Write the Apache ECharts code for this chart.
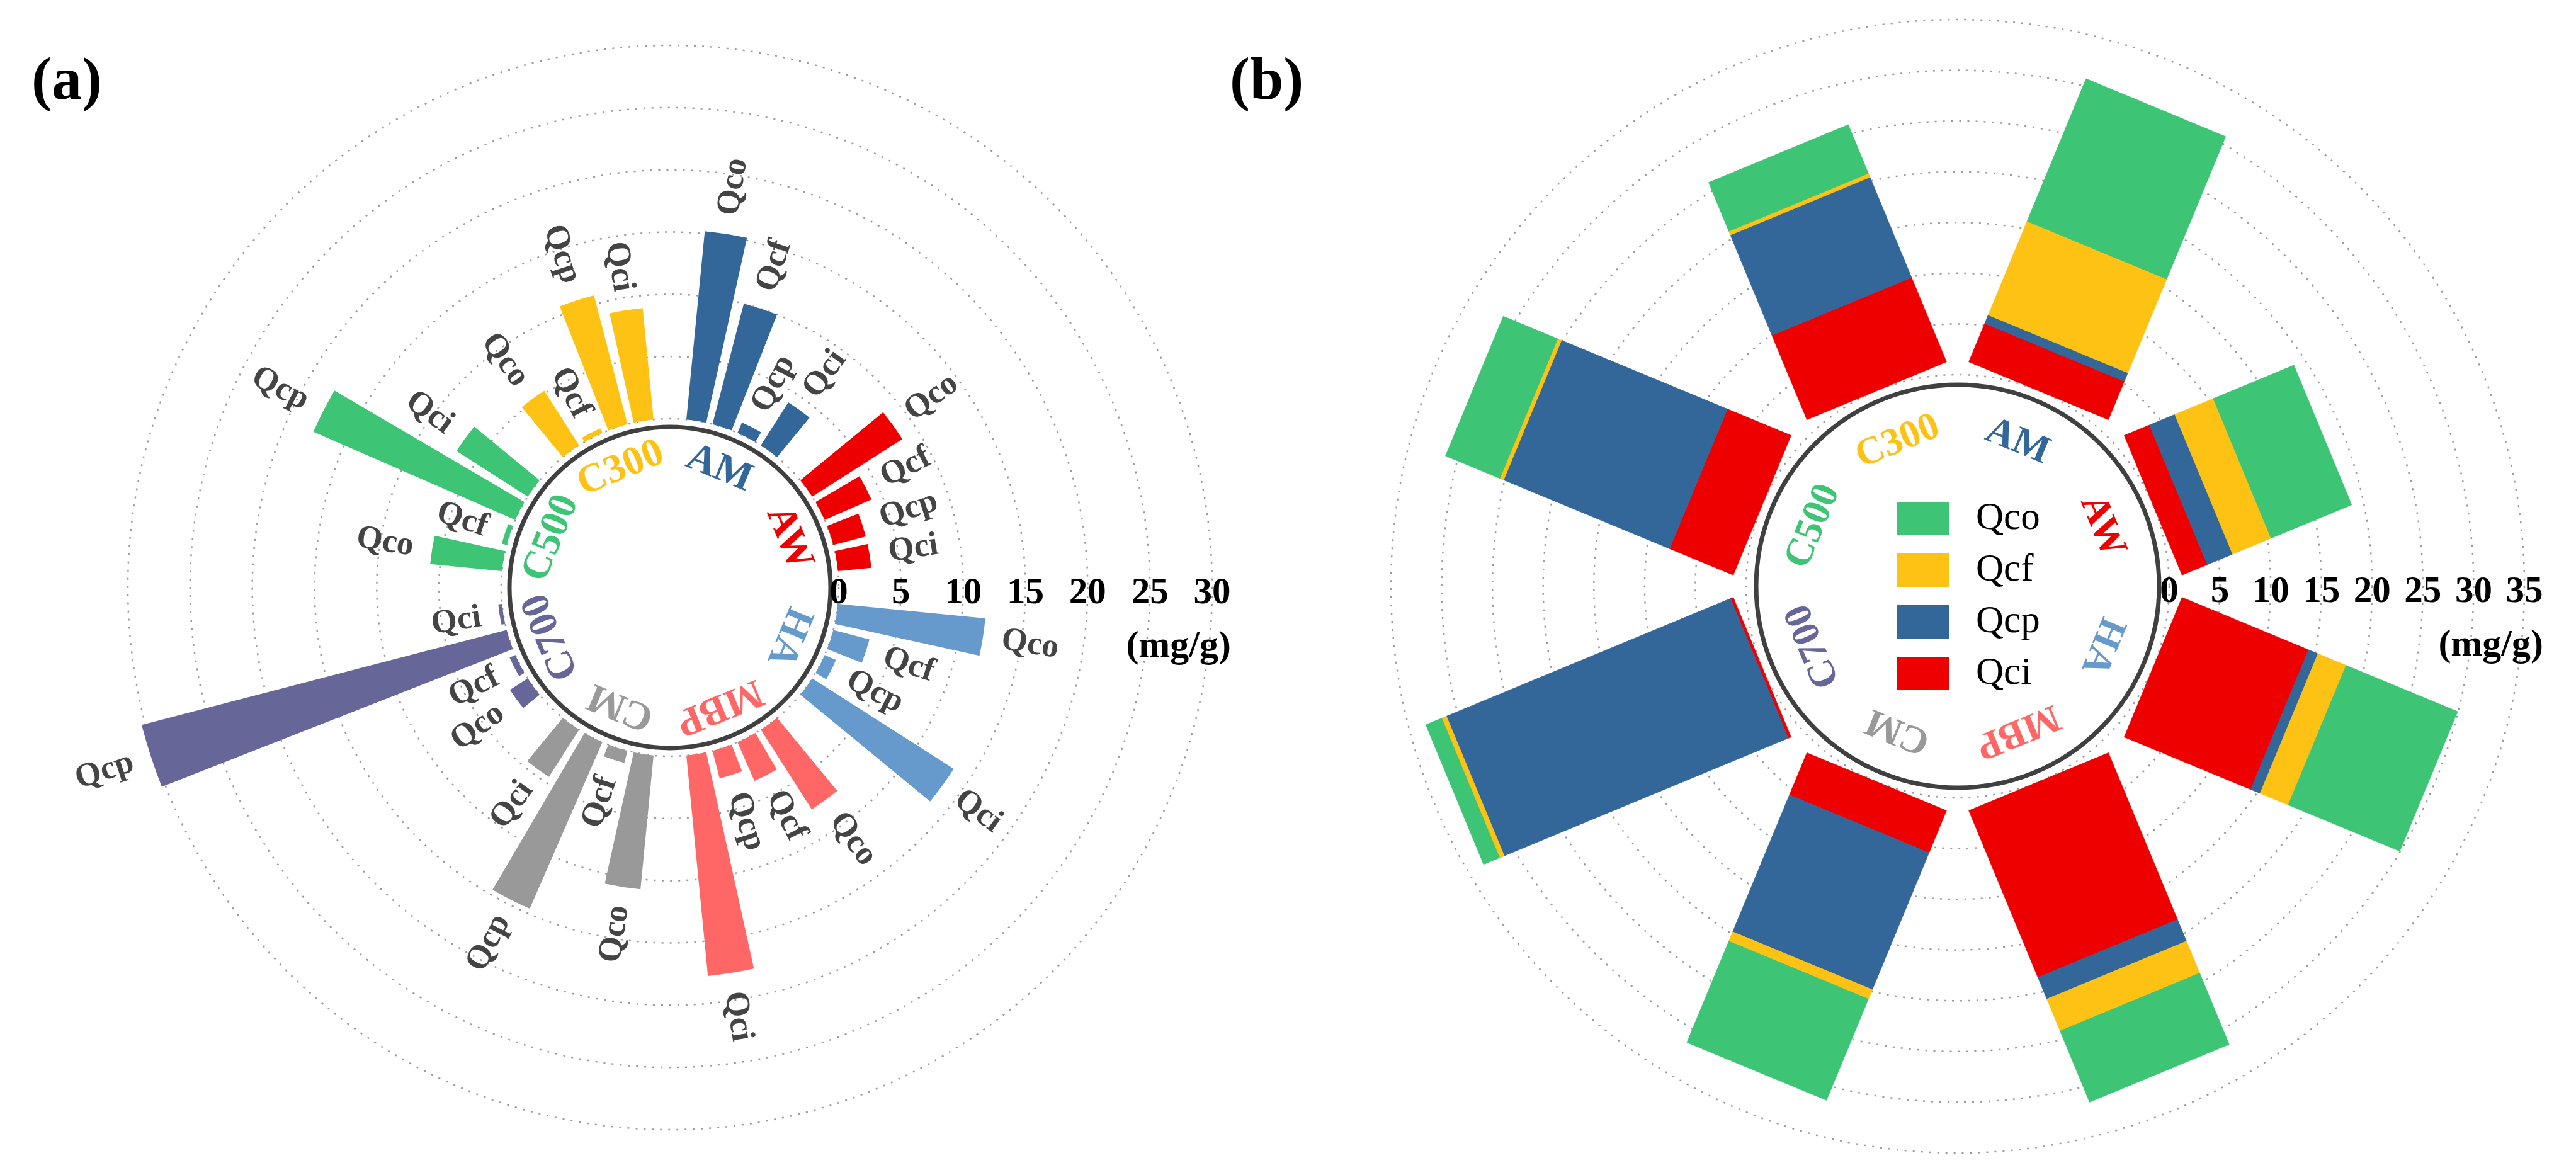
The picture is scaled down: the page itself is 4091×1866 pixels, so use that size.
<!DOCTYPE html>
<html>
<head>
<meta charset="utf-8">
<script src="https://cdn.jsdelivr.net/npm/echarts@6/dist/echarts.min.js"></script>
<style>
html,body{margin:0;padding:0;background:#fff;}
#chart{width:4091px;height:1866px;}
</style>
</head>
<body>
<div id="chart"></div>
<script>
// ---------------- data ----------------
const groups = ['AM', 'AW', 'HA', 'MBP', 'CM', 'C700', 'C500', 'C300'];
const components = ['Qco', 'Qcf', 'Qcp', 'Qci'];
const Qco = [15.2, 8.6, 11.9, 7.6, 10.8, 1.7, 5.8, 5.2];
const Qcf = [10.0, 4.1, 3.0, 3.4, 1.0, 0.5, 0.4, 0.4];
const Qcp = [0.9, 2.7, 1.0, 2.3, 14.6, 30.3, 17.7, 10.7];
const Qci = [4.1, 2.7, 13.5, 17.8, 4.5, 0.3, 6.8, 9.0];
const stackOrder = ['Qci', 'Qcp', 'Qcf', 'Qco'];   // inner -> outer in panel (b)
const unitLabel = '(mg/g)';
const panelTitles = ['(a)', '(b)'];

// ---------------- styles ----------------
const FONT = 'Liberation Serif';
const groupColors = ['#336699', '#EE0000', '#6699CC', '#FF6666', '#999999', '#666699', '#3DC474', '#FEC214'];
const compColors = { Qco: '#3DC474', Qcf: '#FEC214', Qcp: '#336699', Qci: '#EE0000' };
const valuesByComp = { Qco, Qcf, Qcp, Qci };
const gridLine = { color: '#9a9a9a', width: 2.5, type: [3, 10] };
const CA = [1064, 933], CB = [3109, 931];

// ---------------- panel (a) derived ----------------
const catA = [];
const barDataA = [];
const labelDataA = [];
const labelTextA = [];
groups.forEach((g, gi) => {
  components.forEach((c) => {
    const idx = catA.length;
    catA.push(g + '-' + c);
    const v = valuesByComp[c][gi];
    barDataA.push({ value: v, itemStyle: { color: groupColors[gi] } });
    labelDataA.push([idx, v]);
    labelTextA.push(c);
  });
  catA.push(g + '-gap');
  barDataA.push('-');
});

// ---------------- panel (b) derived ----------------
const stackSeries = stackOrder.map((c) => {
  const data = groups.map((g, gi) => {
    let start = 0;
    for (const s of stackOrder) { if (s === c) break; start += valuesByComp[s][gi]; }
    return [gi, start, start + valuesByComp[c][gi]];
  });
  return {
    name: c, type: 'custom', coordinateSystem: 'polar', polarIndex: 3,
    itemStyle: { color: compColors[c] },
    encode: { angle: 0, radius: [1, 2] },
    data: data,
    renderItem: stackRect, z: 3
  };
});

function unitDir(api, k, rmax) {
  const a = api.coord([0, k]), b = api.coord([rmax, k]);
  let ux = b[0] - a[0], uy = b[1] - a[1];
  const L = Math.hypot(ux, uy) || 1;
  return [ux / L, uy / L];
}

function stackRect(params, api) {
  const k = api.value(0), s = api.value(1), e = api.value(2);
  const [ux, uy] = unitDir(api, k, 35);
  const nx = -uy, ny = ux;
  const p0 = api.coord([s, k]), p1 = api.coord([e, k]);
  const H = 120;
  const col = api.visual('color');
  return {
    type: 'polygon',
    shape: { points: [
      [p0[0] + nx * H, p0[1] + ny * H], [p1[0] + nx * H, p1[1] + ny * H],
      [p1[0] - nx * H, p1[1] - ny * H], [p0[0] - nx * H, p0[1] - ny * H]] },
    style: { fill: col, stroke: col, lineWidth: 0.8 }
  };
}

function barLabel(params, api) {
  const cat = api.value(0), v = api.value(1);
  const [ux, uy] = unitDir(api, cat, 30);
  const tip = api.coord([v, cat]);
  const GAP = 30;
  let rot = Math.atan2(-uy, ux), align = 'left';
  if (ux < 0) { rot += Math.PI; align = 'right'; }
  return {
    type: 'text', x: tip[0] + ux * GAP, y: tip[1] + uy * GAP, rotation: rot,
    style: { text: labelTextA[params.dataIndex], fill: '#444',
      font: 'bold 53px "' + FONT + '"', align: align, verticalAlign: 'middle' }
  };
}

function makeGroupLabel(size) {
  return function (params, api) {
    const k = api.value(0), r = api.value(1);
    const c = api.coord([0, k]), p = api.coord([r, k]);
    let ux = p[0] - c[0], uy = p[1] - c[1];
    const L = Math.hypot(ux, uy) || 1; ux /= L; uy /= L;
    return {
      type: 'text', x: p[0], y: p[1], rotation: Math.atan2(-ux, -uy),
      style: { text: groups[k], fill: groupColors[k],
        font: 'bold ' + size + 'px "' + FONT + '"', align: 'center', verticalAlign: 'middle' }
    };
  };
}

const hiddenAngle = (idx, extra) => Object.assign({
  polarIndex: idx, axisLine: { show: false }, axisTick: { show: false },
  axisLabel: { show: false }, splitLine: { show: false }, splitArea: { show: false }
}, extra);

function labelRadius(idx, max) {
  return {
    polarIndex: idx, type: 'value', min: 0, max: max, interval: 5,
    axisLine: { show: false }, axisTick: { show: false }, splitLine: { show: false },
    axisLabel: { show: true, color: '#000', fontFamily: FONT, fontWeight: 'bold', fontSize: 59,
      margin: -10, verticalAlign: 'middle', align: 'center' },
    name: unitLabel, nameLocation: 'end', nameGap: 30, nameMoveOverlap: false,
    nameTextStyle: { color: '#000', fontFamily: FONT, fontWeight: 'bold', fontSize: 60,
      align: 'right', verticalAlign: 'top', padding: [64, 0, 0, 0] }
  };
}

const option = {
  animation: false,
  backgroundColor: '#fff',
  title: panelTitles.map((t, i) => ({
    text: t, left: i === 0 ? 50 : 1953, top: 84, padding: 0,
    textStyle: { fontFamily: FONT, fontWeight: 'bold', fontSize: 96, color: '#000' }
  })),
  legend: {
    data: components, orient: 'vertical', left: 3013, top: 793,
    itemWidth: 82, itemHeight: 53, itemGap: 21, icon: 'rect', padding: 0,
    selectedMode: false,
    textStyle: { fontFamily: FONT, fontSize: 61, color: '#000', padding: [0, 0, 0, 38] }
  },
  polar: [
    { center: CA, radius: [268, 861] },
    { center: CA, radius: [0, 255] },
    { center: CA, radius: [268, 861] },
    { center: CB, radius: [336, 900] },
    { center: CB, radius: [0, 320] },
    { center: CB, radius: [336, 900] }
  ],
  angleAxis: [
    hiddenAngle(0, { type: 'category', data: catA, startAngle: 85.5, clockwise: true }),
    hiddenAngle(1, { type: 'category', data: groups, startAngle: 90, clockwise: true,
      axisLine: { show: true, lineStyle: { color: '#404040', width: 7 } } }),
    hiddenAngle(2, { type: 'value', min: 0, max: 360, startAngle: 0, show: false }),
    hiddenAngle(3, { type: 'category', data: groups, startAngle: 90, clockwise: true }),
    hiddenAngle(4, { type: 'category', data: groups, startAngle: 90, clockwise: true,
      axisLine: { show: true, lineStyle: { color: '#404040', width: 7 } } }),
    hiddenAngle(5, { type: 'value', min: 0, max: 360, startAngle: 0, show: false })
  ],
  radiusAxis: [
    { polarIndex: 0, type: 'value', min: 0, max: 30, interval: 5,
      axisLine: { show: false }, axisTick: { show: false }, axisLabel: { show: false },
      splitLine: { show: true, lineStyle: gridLine } },
    { polarIndex: 1, type: 'value', min: 0, max: 1, show: false },
    labelRadius(2, 30),
    { polarIndex: 3, type: 'value', min: 0, max: 35, interval: 5,
      axisLine: { show: false }, axisTick: { show: false }, axisLabel: { show: false },
      splitLine: { show: true, lineStyle: gridLine } },
    { polarIndex: 4, type: 'value', min: 0, max: 1, show: false },
    labelRadius(5, 35)
  ],
  series: [
    { name: 'a-bars', type: 'bar', coordinateSystem: 'polar', polarIndex: 0,
      data: barDataA, barCategoryGap: '24%', clip: false, z: 3 },
    { name: 'a-labels', type: 'custom', coordinateSystem: 'polar', polarIndex: 0,
      encode: { angle: 0, radius: 1 }, data: labelDataA, renderItem: barLabel, z: 4 },
    { name: 'a-groups', type: 'custom', coordinateSystem: 'polar', polarIndex: 1,
      encode: { angle: 0, radius: 1 }, data: groups.map((g, k) => [k, 0.8]),
      renderItem: makeGroupLabel(64), z: 4 },
    ...stackSeries,
    { name: 'b-groups', type: 'custom', coordinateSystem: 'polar', polarIndex: 4,
      encode: { angle: 0, radius: 1 }, data: groups.map((g, k) => [k, 0.775]),
      renderItem: makeGroupLabel(62), z: 4 }
  ]
};

const chart = echarts.init(document.getElementById('chart'), null, { renderer: 'canvas' });
chart.setOption(option);
</script>
</body>
</html>
